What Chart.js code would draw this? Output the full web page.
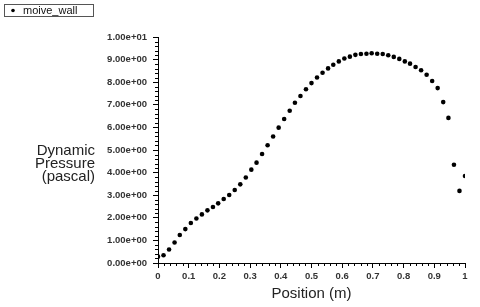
<!DOCTYPE html>
<html>
<head>
<meta charset="utf-8">
<style>
  html, body { margin: 0; padding: 0; background: #fff; }
  #wrap { width: 480px; height: 307px; }
</style>
<script src="https://cdn.jsdelivr.net/npm/chart.js@4.4.0/dist/chart.umd.min.js"></script>
</head>
<body>
<div id="wrap"><canvas id="myChart" width="480" height="307"></canvas></div>
<script>
'use strict';

// position along the wall (m)
var positions = [0.000, 0.018, 0.036, 0.054, 0.071, 0.089, 0.107, 0.125, 0.143, 0.161,
    0.179, 0.196, 0.214, 0.232, 0.250, 0.268, 0.286, 0.304, 0.321, 0.339,
    0.357, 0.375, 0.393, 0.411, 0.429, 0.446, 0.464, 0.482, 0.500, 0.518,
    0.536, 0.554, 0.571, 0.589, 0.607, 0.625, 0.643, 0.661, 0.679, 0.696,
    0.714, 0.732, 0.750, 0.768, 0.786, 0.804, 0.821, 0.839, 0.857, 0.875,
    0.893, 0.911, 0.929, 0.946, 0.964, 0.982, 1.000];

// dynamic pressure (pascal)
var pressures = [0.28, 0.34, 0.60, 0.91, 1.24, 1.50, 1.77, 1.97, 2.15, 2.33,
    2.48, 2.64, 2.83, 3.01, 3.23, 3.48, 3.78, 4.13, 4.44, 4.82,
    5.21, 5.60, 5.99, 6.37, 6.74, 7.09, 7.39, 7.69, 7.96, 8.21,
    8.42, 8.61, 8.77, 8.92, 9.05, 9.13, 9.21, 9.25, 9.26, 9.28,
    9.26, 9.25, 9.19, 9.12, 9.03, 8.92, 8.82, 8.67, 8.53, 8.33,
    8.05, 7.74, 7.12, 6.42, 4.35, 3.19, 3.85];

var seriesName = "moive_wall";
var yTitleLines = ["Dynamic", "Pressure", "(pascal)"];
var xTitle = "Position (m)";

var points = [];
positions.forEach(function(p, i) {
    points.push({ x: p, y: pressures[i] });
});

function sci(v) {
    var s = Number(v).toExponential(2);
    return s.replace(/e([+-])(\d)$/, 'e$10$2');
}

// minor ticks, y-axis title and boxed legend
var extras = {
    id: 'extras',
    afterDraw: function(chart) {
        var ctx = chart.ctx;
        var xs = chart.scales.x, ys = chart.scales.y;
        var area = chart.chartArea;
        ctx.save();
        ctx.strokeStyle = '#000';
        ctx.lineWidth = 1;
        ctx.beginPath();
        for (var k = 0; k <= 50; k++) {
            if (k % 5 === 0) continue;
            var vy = Math.round(ys.getPixelForValue(k * 0.2)) + 0.5;
            ctx.moveTo(area.left - 3, vy);
            ctx.lineTo(area.left, vy);
            var vx = Math.round(xs.getPixelForValue(k * 0.02)) + 0.5;
            ctx.moveTo(vx, area.bottom);
            ctx.lineTo(vx, area.bottom + 3);
        }
        ctx.stroke();

        ctx.fillStyle = '#222';
        ctx.font = '15px "Liberation Sans", Arial, sans-serif';
        ctx.textAlign = 'right';
        ctx.textBaseline = 'middle';
        yTitleLines.forEach(function(line, i) {
            ctx.fillText(line, 95, 151 + i * 12.7);
        });

        ctx.strokeStyle = '#555';
        ctx.strokeRect(4.5, 4.5, 89, 12);
        ctx.fillStyle = '#000';
        ctx.beginPath();
        ctx.arc(13, 10.5, 1.8, 0, Math.PI * 2);
        ctx.fill();
        ctx.fillStyle = '#111';
        ctx.font = '11px "Liberation Sans", Arial, sans-serif';
        ctx.textAlign = 'left';
        ctx.fillText(chart.data.datasets[0].label, 23, 10.5);
        ctx.restore();
    }
};

var ctx = document.getElementById("myChart");
var myChart = new Chart(ctx, {
    type: 'scatter',
    data: {
        datasets: [{
            label: seriesName,
            data: points,
            backgroundColor: '#000',
            borderColor: '#000',
            borderWidth: 0,
            pointRadius: 2.3,
            pointHoverRadius: 2.3
        }]
    },
    options: {
        responsive: false,
        animation: false,
        layout: {
            padding: { left: 0, top: 37, right: 15, bottom: 0 }
        },
        plugins: {
            legend: { display: false },
            tooltip: { enabled: false }
        },
        scales: {
            x: {
                type: 'linear',
                min: 0,
                max: 1,
                afterFit: function(scale) { scale.height = 44; },
                grid: {
                    display: true,
                    drawOnChartArea: false,
                    drawTicks: true,
                    tickLength: 5,
                    color: '#000'
                },
                border: { display: true, color: '#000' },
                ticks: {
                    stepSize: 0.1,
                    padding: 3,
                    maxRotation: 0,
                    color: '#333',
                    font: { family: '"Liberation Sans", Arial, sans-serif', size: 9.5, weight: 'bold' },
                    callback: function(v) { return String(Math.round(v * 10) / 10); }
                },
                title: {
                    display: true,
                    text: xTitle,
                    color: '#222',
                    padding: { top: 0, bottom: 4 },
                    font: { family: '"Liberation Sans", Arial, sans-serif', size: 15 }
                }
            },
            y: {
                type: 'linear',
                min: 0,
                max: 10,
                afterFit: function(scale) { scale.width = 158; },
                grid: {
                    display: true,
                    drawOnChartArea: false,
                    drawTicks: true,
                    tickLength: 5,
                    color: '#000'
                },
                border: { display: true, color: '#000' },
                ticks: {
                    stepSize: 1,
                    padding: 6,
                    color: '#333',
                    font: { family: '"Liberation Sans", Arial, sans-serif', size: 9.5, weight: 'bold' },
                    callback: function(v) { return sci(v); }
                }
            }
        }
    },
    plugins: [extras]
});
</script>
</body>
</html>
